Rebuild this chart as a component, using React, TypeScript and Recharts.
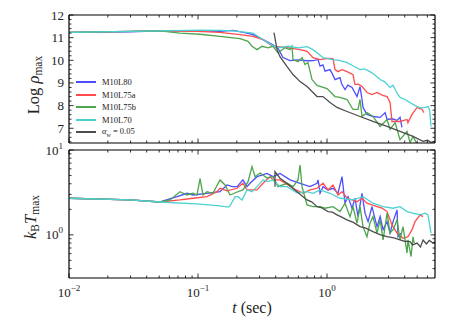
import React from "react";
import { LineChart, Line, XAxis, YAxis } from "recharts";

const FONT = '"Liberation Serif", "DejaVu Serif", serif';

const timeDomain = [0.01, 6.87];
const rhoDomain = [6.35, 12];
const tempDomain = [0.31, 10];

const timeTicks = [0.01, 0.02, 0.03, 0.04, 0.05, 0.06, 0.07, 0.08, 0.09, 0.1, 0.2, 0.3, 0.4, 0.5, 0.6, 0.7, 0.8, 0.9, 1, 2, 3, 4, 5, 6];
const rhoTicks = [6.4, 6.6, 6.8, 7, 7.2, 7.4, 7.6, 7.8, 8, 8.2, 8.4, 8.6, 8.8, 9, 9.2, 9.4, 9.6, 9.8, 10, 10.2, 10.4, 10.6, 10.8, 11, 11.2, 11.4, 11.6, 11.8, 12];
const tempTicks = [0.4, 0.5, 0.6, 0.7, 0.8, 0.9, 1, 2, 3, 4, 5, 6, 7, 8, 9, 10];

const seriesNames = ["M10L80", "M10L75a", "M10L75b", "M10L70"];
const seriesColors = ["#4d4dff", "#ff4d4d", "#4da64d", "#4dd2d2", "#4d4d4d"];

// [t (sec), log rho_max]
const l80Rho = [[0.01, 11.23], [0.0297, 11.26], [0.0507, 11.3], [0.1037, 11.3], [0.148, 11.28], [0.187, 11.32], [0.23, 11.22], [0.267, 11.13], [0.319, 10.91], [0.381, 10.69], [0.42, 10.5], [0.456, 10.12], [0.517, 9.99], [0.6, 10.02], [0.7, 9.98], [0.779, 9.99], [0.852, 10.03], [0.883, 9.74], [0.93, 9.8], [0.965, 9.52], [1.055, 9.59], [1.1, 9.4], [1.153, 9.15], [1.261, 9.24], [1.3, 8.95], [1.379, 8.71], [1.45, 8.9], [1.562, 8.8], [1.708, 8.4], [1.802, 8.84], [1.867, 8.27], [1.901, 7.92], [2.04, 7.61], [2.27, 7.52], [2.58, 7.48], [2.82, 7.69], [2.92, 7.39], [3.2, 7.42], [3.49, 7.35], [3.68, 7.48], [3.81, 7.04]];
const l75aRho = [[0.01, 11.23], [0.0507, 11.3], [0.0982, 11.28], [0.148, 11.23], [0.212, 11.13], [0.267, 11.06], [0.319, 10.91], [0.381, 10.62], [0.49, 10.56], [0.618, 10.47], [0.7, 10.4], [0.779, 10.12], [0.883, 10.03], [1.0, 10.08], [1.113, 10.07], [1.153, 9.59], [1.217, 9.5], [1.307, 9.59], [1.429, 9.5], [1.59, 9.37], [1.648, 8.93], [1.75, 8.95], [1.867, 8.84], [2.04, 8.58], [2.23, 8.49], [2.44, 8.58], [2.7, 8.45], [2.92, 8.4], [3.08, 8.14], [3.19, 7.3], [3.68, 7.3], [4.17, 7.39], [4.24, 7.25], [4.56, 7.61], [4.99, 7.92], [5.45, 7.83], [5.64, 7.69]];
const l75bRho = [[0.01, 11.23], [0.0507, 11.3], [0.0725, 11.2], [0.1037, 11.15], [0.148, 11.06], [0.212, 10.96], [0.244, 10.84], [0.262, 10.62], [0.287, 10.47], [0.314, 10.62], [0.349, 10.55], [0.381, 10.62], [0.417, 10.33], [0.472, 10.56], [0.517, 10.47], [0.535, 10.62], [0.545, 10.03], [0.596, 9.94], [0.64, 10.12], [0.675, 9.81], [0.712, 9.9], [0.765, 9.15], [0.837, 8.89], [1.0, 8.75], [1.153, 8.4], [1.261, 8.36], [1.429, 8.27], [1.59, 7.83], [1.738, 7.83], [1.802, 8.27], [1.867, 7.52], [2.04, 7.69], [2.27, 7.52], [2.58, 7.08], [2.92, 7.39], [3.08, 6.95], [3.37, 7.25], [3.68, 6.5], [4.17, 6.86], [4.4, 6.37], [4.64, 6.64], [4.99, 6.3]];
const l70Rho = [[0.01, 11.23], [0.0507, 11.3], [0.1037, 11.33], [0.148, 11.32], [0.187, 11.3], [0.267, 11.2], [0.319, 10.91], [0.381, 10.65], [0.432, 10.56], [0.5, 10.62], [0.6, 10.55], [0.7, 10.6], [0.779, 10.47], [0.85, 10.3], [0.931, 10.12], [1.113, 10.03], [1.25, 10.0], [1.429, 9.9], [1.6, 9.75], [1.802, 9.59], [1.95, 9.62], [2.15, 9.5], [2.35, 9.35], [2.58, 9.15], [2.8, 9.05], [3.08, 8.8], [3.25, 8.9], [3.45, 8.6], [3.68, 8.36], [4.02, 8.27], [4.5, 8.1], [4.99, 7.96], [5.4, 7.9], [5.75, 7.92], [6.06, 7.96], [6.25, 7.8], [6.4, 7.08]];
const awRho = [[0.388, 11.22], [0.41, 10.47], [0.432, 10.16], [0.49, 9.72], [0.545, 9.37], [0.618, 9.06], [0.7, 8.84], [0.779, 8.58], [0.837, 8.4], [0.931, 8.4], [1.055, 8.14], [1.195, 7.92], [1.429, 7.74], [1.802, 7.52], [2.27, 7.3], [2.92, 7.08], [3.68, 6.86], [4.64, 6.64], [5.55, 6.42], [6.0, 6.47], [6.4, 6.38], [6.87, 6.42]];

// [t (sec), k_B T_max]
const l80Temp = [[0.01, 2.7], [0.0297, 2.58], [0.0507, 2.44], [0.0688, 2.82], [0.0822, 3.09], [0.0914, 2.95], [0.1174, 3.09], [0.148, 3.23], [0.168, 3.87], [0.184, 3.7], [0.201, 3.7], [0.223, 4.44], [0.24, 3.7], [0.253, 4.05], [0.287, 4.85], [0.343, 5.3], [0.381, 4.85], [0.432, 5.3], [0.517, 4.44], [0.618, 4.05], [0.738, 3.7], [0.837, 4.05], [0.852, 4.44], [0.883, 3.09], [0.931, 3.7], [1.018, 3.38], [1.113, 3.54], [1.217, 3.09], [1.307, 4.85], [1.379, 2.36], [1.455, 2.82], [1.562, 2.06], [1.648, 2.7], [1.738, 1.64], [1.867, 3.09], [1.97, 1.8], [2.08, 1.43], [2.23, 2.15], [2.44, 1.25], [2.58, 1.64], [2.72, 1.15], [2.92, 1.43], [3.08, 1.05], [3.25, 1.43], [3.49, 1.97], [3.55, 0.95], [3.75, 1.05]];
const l75aTemp = [[0.01, 2.7], [0.0297, 2.58], [0.0507, 2.44], [0.0725, 2.58], [0.0914, 2.7], [0.1174, 2.82], [0.1403, 3.23], [0.148, 3.54], [0.168, 3.3], [0.201, 3.54], [0.223, 4.05], [0.24, 3.38], [0.287, 3.38], [0.319, 4.05], [0.362, 4.85], [0.381, 4.44], [0.432, 4.44], [0.545, 3.54], [0.652, 3.09], [0.738, 3.38], [0.837, 3.54], [0.931, 4.05], [1.018, 3.38], [1.113, 3.87], [1.217, 2.95], [1.307, 3.23], [1.429, 2.7], [1.562, 2.58], [1.708, 2.46], [1.867, 2.7], [2.04, 2.36], [2.23, 2.25], [2.44, 2.15], [2.67, 2.06], [2.92, 1.88], [3.19, 1.31], [3.49, 1.05], [3.88, 0.91], [4.24, 0.95], [4.56, 1.15], [4.81, 1.43], [5.26, 1.72], [5.55, 1.64]];
const l75bTemp = [[0.01, 2.7], [0.0297, 2.58], [0.0507, 2.44], [0.0607, 2.58], [0.0725, 3.23], [0.0822, 2.95], [0.0914, 3.09], [0.0982, 2.95], [0.1037, 4.6], [0.1094, 2.95], [0.1174, 3.23], [0.1306, 3.09], [0.148, 4.44], [0.162, 3.87], [0.177, 2.95], [0.201, 3.2], [0.223, 3.38], [0.244, 4.2], [0.262, 6.36], [0.277, 4.85], [0.303, 5.35], [0.343, 4.68], [0.381, 4.85], [0.417, 3.7], [0.49, 4.05], [0.545, 3.7], [0.596, 4.44], [0.618, 6.66], [0.64, 3.7], [0.7, 2.25], [0.779, 2.15], [0.883, 2.15], [0.965, 2.06], [1.113, 2.15], [1.261, 1.88], [1.379, 2.36], [1.507, 1.64], [1.59, 2.15], [1.708, 1.37], [1.802, 2.15], [1.901, 1.25], [2.04, 0.95], [2.15, 1.37], [2.27, 1.64], [2.44, 1.05], [2.58, 1.5], [2.72, 0.87], [2.92, 1.8], [3.08, 1.05], [3.25, 1.15], [3.49, 1.5], [3.68, 0.87], [3.88, 1.25], [4.17, 0.61], [4.24, 0.87], [4.48, 0.555], [4.64, 0.95], [4.73, 0.8]];
const l70Temp = [[0.01, 2.7], [0.0297, 2.58], [0.0507, 2.44], [0.1037, 2.3], [0.148, 2.2], [0.171, 2.12], [0.177, 2.2], [0.194, 2.82], [0.204, 2.82], [0.219, 2.58], [0.24, 3.38], [0.262, 3.23], [0.287, 3.7], [0.319, 4.44], [0.349, 4.24], [0.381, 4.44], [0.432, 3.7], [0.49, 3.7], [0.585, 3.12], [0.7, 3.23], [0.779, 3.09], [0.883, 3.38], [1.055, 3.09], [1.261, 2.7], [1.59, 2.58], [1.901, 2.82], [2.27, 2.36], [2.72, 2.15], [3.25, 2.06], [3.68, 2.15], [4.17, 1.88], [4.64, 1.8], [5.26, 1.72], [5.75, 1.8], [6.06, 1.72], [6.4, 1.05]];
const awTemp = [[0.395, 3.7], [0.395, 5.56], [0.432, 4.65], [0.49, 4.05], [0.585, 3.23], [0.7, 2.58], [0.76, 2.45], [0.837, 2.15], [0.9, 2.1], [1.018, 1.88], [1.1, 1.85], [1.195, 1.72], [1.3, 1.62], [1.429, 1.5], [1.6, 1.4], [1.802, 1.25], [2.0, 1.2], [2.27, 1.09], [2.6, 1.0], [2.92, 0.95], [3.3, 0.92], [3.68, 0.87], [4.0, 0.84], [4.4, 0.83], [4.6, 0.76], [4.99, 0.8], [5.3, 0.72], [5.55, 0.87], [5.9, 0.78], [6.2, 0.86], [6.64, 0.8], [6.87, 0.82]];

const toPoints = (pairs: number[][]) => pairs.map(([t, v]) => ({ t, v }));

const rhoSeries = [l80Rho, l75aRho, l75bRho, l70Rho, awRho];
const tempSeries = [l80Temp, l75aTemp, l75bTemp, l70Temp, awTemp];

const isDecade = (v: number) => Math.abs(Math.log10(v) - Math.round(Math.log10(v))) < 1e-6;
const expText = (v: number) => String(Math.round(Math.log10(v))).replace("-", "\u2212");

const textStyle = { fontFamily: FONT, fill: "#222" };

function TimeTick(props: any) {
  const { x, y, payload, side, showLabel } = props;
  const major = isDecade(payload.value);
  const len = major ? 4.5 : 2.5;
  const dir = side === "top" ? 1 : -1;
  return (
    <g>
      <line x1={x} y1={y} x2={x} y2={y + dir * len} stroke="#000" strokeWidth={0.8} />
      {showLabel && major && (
        <text x={x} y={y + 19} textAnchor="middle" fontSize={13} style={textStyle}>
          10<tspan dy={-6} fontSize={9}>{expText(payload.value)}</tspan>
        </text>
      )}
    </g>
  );
}

function RhoTick(props: any) {
  const { x, y, payload, side } = props;
  const v = payload.value;
  const major = Math.abs(v - Math.round(v)) < 1e-6;
  const len = major ? 4.5 : 2.5;
  const dir = side === "left" ? 1 : -1;
  return (
    <g>
      <line x1={x} y1={y} x2={x + dir * len} y2={y} stroke="#000" strokeWidth={0.8} />
      {side === "left" && major && (
        <text x={x - 5} y={y + 4.5} textAnchor="end" fontSize={13} style={textStyle}>
          {Math.round(v)}
        </text>
      )}
    </g>
  );
}

function TempTick(props: any) {
  const { x, y, payload, side } = props;
  const v = payload.value;
  const major = isDecade(v);
  const len = major ? 4.5 : 2.5;
  const dir = side === "left" ? 1 : -1;
  return (
    <g>
      <line x1={x} y1={y} x2={x + dir * len} y2={y} stroke="#000" strokeWidth={0.8} />
      {side === "left" && major && (
        <text x={x - 6} y={y + 4.5} textAnchor="end" fontSize={13} style={textStyle}>
          10<tspan dy={-6} fontSize={9}>{expText(v)}</tspan>
        </text>
      )}
    </g>
  );
}

const axisLine = { stroke: "#000", strokeWidth: 1.2 };

function YTitleRho() {
  return (
    <text transform="translate(39,85) rotate(-90)" textAnchor="middle" fontSize={16.5} style={textStyle}>
      Log <tspan fontStyle="italic">ρ</tspan>
      <tspan fontSize={11.5} dy={3}>max</tspan>
    </text>
  );
}

function YTitleTemp() {
  return (
    <text transform="translate(36,91) rotate(-90)" textAnchor="middle" fontSize={16.5} style={textStyle}>
      <tspan fontStyle="italic">k</tspan>
      <tspan fontSize={11.5} dy={3}>B</tspan>
      <tspan fontStyle="italic" dy={-3}>T</tspan>
      <tspan fontSize={11.5} dy={3}>max</tspan>
    </text>
  );
}

function XTitle() {
  return (
    <text x={252} y={187} textAnchor="middle" fontSize={16} style={textStyle}>
      <tspan fontStyle="italic">t</tspan> (sec)
    </text>
  );
}

function Legend() {
  const rows = [...seriesNames, "aw"];
  return (
    <div style={{ position: "absolute", left: 76, top: 76, fontFamily: FONT, fontSize: 8.5, color: "#222" }}>
      {rows.map((name, i) => (
        <div key={name} style={{ display: "flex", alignItems: "center", height: 12.5 }}>
          <svg width={20} height={4} style={{ marginRight: 6 }}>
            <line x1={0} y1={2} x2={20} y2={2} stroke={seriesColors[i]} strokeWidth={2} />
          </svg>
          {name === "aw" ? (
            <span>
              <i>α</i>
              <sub style={{ fontSize: 6 }}>w</sub> = 0.05
            </span>
          ) : (
            name
          )}
        </div>
      ))}
    </div>
  );
}

export default function App() {
  return (
    <div style={{ position: "absolute", left: 0, top: 0, width: 458, height: 321, background: "#fff", fontFamily: FONT }}>
      <div style={{ position: "absolute", left: 0, top: 0 }}>
        <LineChart width={458} height={146} margin={{ top: 14, right: 22, bottom: 0, left: 0 }}>
          <XAxis xAxisId="b" dataKey="t" type="number" scale="log" domain={timeDomain} allowDataOverflow ticks={timeTicks} interval={0} height={3} tickSize={0} tickMargin={0} axisLine={axisLine} tickLine={false} tick={(p: any) => <TimeTick {...p} side="bottom" />} />
          <XAxis xAxisId="t" orientation="top" dataKey="t" type="number" scale="log" domain={timeDomain} allowDataOverflow ticks={timeTicks} interval={0} height={1} tickSize={0} tickMargin={0} axisLine={axisLine} tickLine={false} tick={(p: any) => <TimeTick {...p} side="top" />} />
          <YAxis yAxisId="l" type="number" domain={rhoDomain} allowDataOverflow ticks={rhoTicks} interval={0} width={69} tickSize={0} tickMargin={0} axisLine={axisLine} tickLine={false} tick={(p: any) => <RhoTick {...p} side="left" />} label={() => <YTitleRho />} />
          <YAxis yAxisId="r" orientation="right" type="number" domain={rhoDomain} allowDataOverflow ticks={rhoTicks} interval={0} width={1} tickSize={0} tickMargin={0} axisLine={axisLine} tickLine={false} tick={(p: any) => <RhoTick {...p} side="right" />} />
          {rhoSeries.map((s, i) => (
            <Line key={i} xAxisId="b" yAxisId="l" data={toPoints(s)} dataKey="v" type="linear" dot={false} stroke={seriesColors[i]} strokeWidth={1.3} isAnimationActive={false} />
          ))}
        </LineChart>
      </div>
      <div style={{ position: "absolute", left: 0, top: 126 }}>
        <LineChart width={458} height={195} margin={{ top: 23, right: 22, bottom: 0, left: 0 }}>
          <XAxis xAxisId="b" dataKey="t" type="number" scale="log" domain={timeDomain} allowDataOverflow ticks={timeTicks} interval={0} height={43} tickSize={0} tickMargin={0} axisLine={axisLine} tickLine={false} tick={(p: any) => <TimeTick {...p} side="bottom" showLabel />} label={() => <XTitle />} />
          <XAxis xAxisId="t" orientation="top" dataKey="t" type="number" scale="log" domain={timeDomain} allowDataOverflow ticks={timeTicks} interval={0} height={1} tickSize={0} tickMargin={0} axisLine={axisLine} tickLine={false} tick={(p: any) => <TimeTick {...p} side="top" />} />
          <YAxis yAxisId="l" type="number" scale="log" domain={tempDomain} allowDataOverflow ticks={tempTicks} interval={0} width={69} tickSize={0} tickMargin={0} axisLine={axisLine} tickLine={false} tick={(p: any) => <TempTick {...p} side="left" />} label={() => <YTitleTemp />} />
          <YAxis yAxisId="r" orientation="right" type="number" scale="log" domain={tempDomain} allowDataOverflow ticks={tempTicks} interval={0} width={1} tickSize={0} tickMargin={0} axisLine={axisLine} tickLine={false} tick={(p: any) => <TempTick {...p} side="right" />} />
          {tempSeries.map((s, i) => (
            <Line key={i} xAxisId="b" yAxisId="l" data={toPoints(s)} dataKey="v" type="linear" dot={false} stroke={seriesColors[i]} strokeWidth={1.3} isAnimationActive={false} />
          ))}
        </LineChart>
      </div>
      <Legend />
    </div>
  );
}
